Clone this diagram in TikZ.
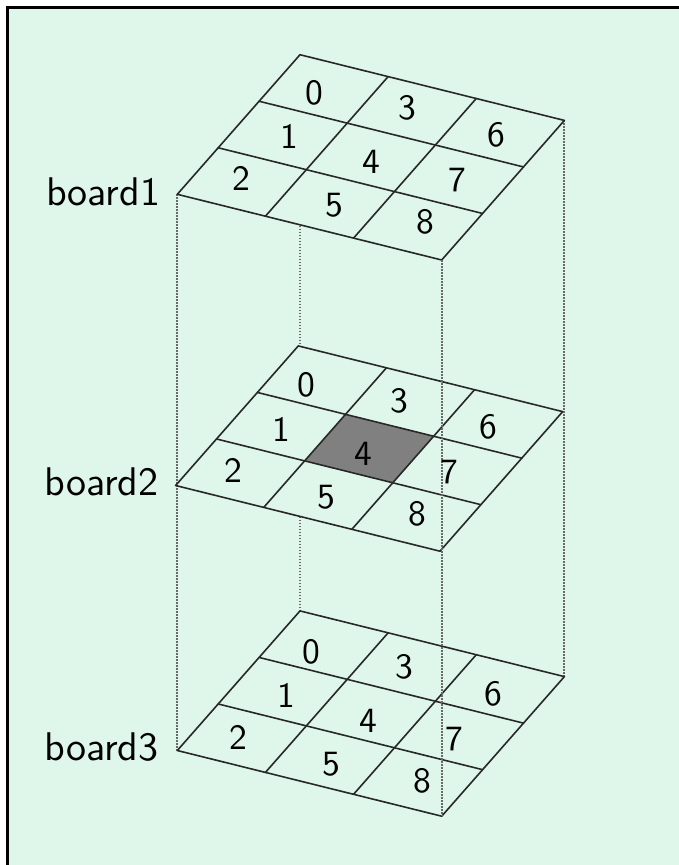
\documentclass[tikz,border=0pt]{standalone}
\usepackage{fontspec}
\newfontfamily\lmssten{lmsans10-regular.otf}
\definecolor{bgc}{RGB}{222,247,234}
\definecolor{linec}{RGB}{40,40,40}
\definecolor{dotc}{RGB}{105,105,105}
\definecolor{cellc}{RGB}{128,128,128}
\newcommand\digitfont{\lmssten\fontsize{35.5}{40}\selectfont}
\newcommand\labelfont{\lmssten\fontsize{40}{46}\selectfont}
% #1 name, #2 #3 left corner, #4 extra fill
\newcommand\drawboard[4]{%
  \begin{scope}[shift={(#2,#3)}, x={(88.13pt,-21.9pt)}, y={(40.9pt,46.53pt)}]
    \fill[bgc] (0,0) -- (3,0) -- (3,3) -- (0,3) -- cycle;
    #4
    \draw[boardline] (0,0) -- (3,0) -- (3,3) -- (0,3) -- cycle;
    \foreach \k in {1,2} {
      \draw[boardline] (\k,0) -- (\k,3);
      \draw[boardline] (0,\k) -- (3,\k);
    }
    \coordinate (#1L) at (0,0);
    \coordinate (#1B) at (3,0);
    \coordinate (#1R) at (3,3);
    \coordinate (#1T) at (0,3);
  \end{scope}}
% #1 name, #2 #3 offset of the digits
\newcommand\boarddigits[3]{%
  \begin{scope}[shift={(#2,#3)}]
    \node[digit] (#1d0) at (314.3,92.7) {0};
    \node[digit] (#1d3) at (407.3,108.3) {3};
    \node[digit] (#1d6) at (496,135) {6};
    \node[digit] (#1d1) at (289,136.7) {1};
    \node[digit] (#1d4) at (371,161.7) {4};
    \node[digit] (#1d7) at (457.3,180) {7};
    \node[digit] (#1d2) at (241,178.3) {2};
    \node[digit] (#1d5) at (334,205) {5};
    \node[digit] (#1d8) at (425,221.7) {8};
  \end{scope}}
\begin{document}
\begin{tikzpicture}[x=1pt,y=-1pt,
  boardline/.style={draw=linec, line width=1.6pt, line cap=round, line join=round},
  guide/.style={draw=dotc, line width=1.9pt, dash pattern=on 1.6pt off 1.4pt},
  digit/.style={inner sep=0pt, font=\digitfont, text=black},
  boardlabel/.style={inner sep=0pt, anchor=base east, font=\labelfont, text=black}]
\useasboundingbox (0,0) rectangle (679,865);
\fill[white] (0,0) rectangle (679,865);
\fill[bgc] (7.5,7.5) rectangle (679,865);
\draw[line width=2.5pt] (7.5,866) -- (7.5,7.5) -- (679,7.5);
% corner coordinates of the top and bottom boards for the guides
\begin{scope}[shift={(177.3,194.3)}, x={(88.13pt,-21.9pt)}, y={(40.9pt,46.53pt)}]
  \coordinate (aL) at (0,0); \coordinate (aB) at (3,0);
  \coordinate (aR) at (3,3); \coordinate (aT) at (0,3);
\end{scope}
\begin{scope}[shift={(177.3,750.5)}, x={(88.13pt,-21.9pt)}, y={(40.9pt,46.53pt)}]
  \coordinate (cL) at (0,0); \coordinate (cB) at (3,0);
  \coordinate (cR) at (3,3); \coordinate (cT) at (0,3);
\end{scope}
% guide lines behind the boards
\draw[guide] (aL) -- (cL);
\draw[guide] (aT) -- (cT);
\draw[guide] (aR) -- (cR);
% boards
\drawboard{b1}{177.3}{194.3}{}
\drawboard{b2}{175.6}{485.5}{\fill[cellc] (1,1) -- (2,1) -- (2,2) -- (1,2) -- cycle;}
\drawboard{b3}{177.3}{750.5}{}
% front guide line over the boards
\draw[guide] (b1B) -- (b3B);
% digits
\boarddigits{b1}{0}{0}
\boarddigits{b2}{-7.8}{292.3}
\boarddigits{b3}{-3}{559}
% labels
\node[boardlabel] (lab1) at (160.5,205.7) {board1};
\node[boardlabel] (lab2) at (158.8,495.7) {board2};
\node[boardlabel] (lab3) at (158.8,760.7) {board3};
\end{tikzpicture}
\end{document}
